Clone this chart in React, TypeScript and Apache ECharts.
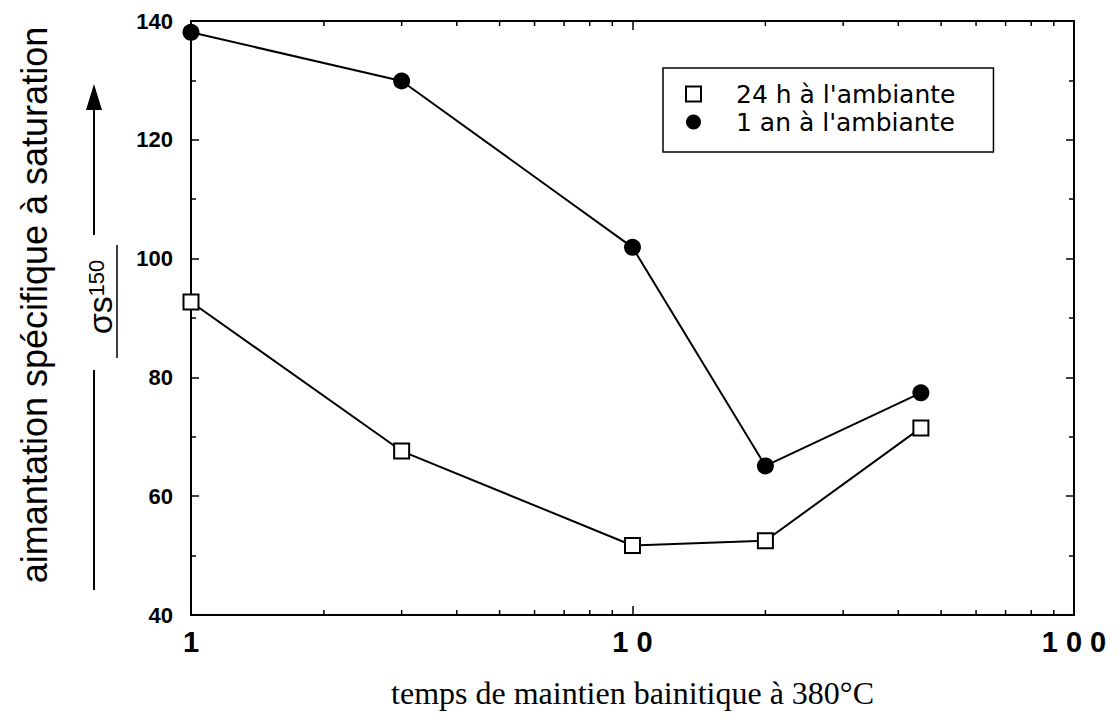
import React, { useEffect, useRef } from "react";
import * as echarts from "echarts";

const xTimes = [1, 3, 10, 20, 45];
const sigma24h = [92.7, 67.6, 51.7, 52.5, 71.5];
const sigma1an = [138.1, 129.9, 101.9, 65.1, 77.4];
const minorTicksX = [2, 3, 4, 5, 6, 7, 8, 9, 20, 30, 40, 50, 60, 70, 80, 90];
const seriesNames = ["24 h à l'ambiante", "1 an à l'ambiante"];
const yTitle = "aimantation spécifique à saturation";
const xTitle = "temps de maintien bainitique à 380°C";

const Y_MIN = 40;
const Y_MAX = 140;

export default function App() {
  const ref = useRef<HTMLDivElement>(null);

  useEffect(() => {
    if (!ref.current) return;
    const chart = echarts.init(ref.current, null, { renderer: "svg" });
    const black = "#000";
    const tickFont = { fontFamily: "Liberation Sans", fontWeight: "bold" as const, color: black };

    const xAxisBase = {
      type: "log" as const,
      logBase: 10,
      min: 1,
      max: 100,
      axisLine: { show: true, lineStyle: { color: black, width: 2 } },
      axisTick: { show: true, inside: true, length: 9, lineStyle: { color: black, width: 1.5 } },
      splitLine: { show: false },
    };
    const yAxisBase = {
      type: "value" as const,
      min: Y_MIN,
      max: Y_MAX,
      interval: 20,
      axisLine: { show: true, lineStyle: { color: black, width: 2 } },
      axisTick: { show: true, inside: true, length: 8, lineStyle: { color: black, width: 1.5 } },
      minorTick: { show: true, splitNumber: 2, length: 5, lineStyle: { color: black, width: 1.5 } },
      splitLine: { show: false },
    };

    chart.setOption({
      animation: false,
      backgroundColor: "#fff",
      grid: { left: 191, right: 46, top: 21, bottom: 110 },
      xAxis: [
        {
          ...xAxisBase,
          position: "bottom",
          axisLabel: {
            ...tickFont,
            fontSize: 29,
            margin: 12,
            formatter: (v: number) => String(Math.round(v)).split("").join(" "),
          },
          name: xTitle,
          nameLocation: "middle",
          nameGap: 62,
          nameTextStyle: { fontFamily: "Liberation Serif", fontSize: 32, color: black },
        },
        { ...xAxisBase, position: "top", axisLabel: { show: false } },
      ],
      yAxis: [
        {
          ...yAxisBase,
          position: "left",
          axisLabel: { ...tickFont, fontSize: 22, margin: 18 },
        },
        { ...yAxisBase, position: "right", axisLabel: { show: false } },
      ],
      legend: {
        left: 663,
        top: 68,
        orient: "vertical",
        padding: [12, 38, 16, 22],
        itemGap: 0,
        itemWidth: 15,
        itemHeight: 15,
        borderColor: black,
        borderWidth: 1.5,
        backgroundColor: "#fff",
        textStyle: {
          fontFamily: "DejaVu Sans",
          fontSize: 25,
          lineHeight: 28,
          color: black,
          padding: [0, 0, 0, 30],
        },
        data: [
          { name: seriesNames[0], icon: "rect" },
          { name: seriesNames[1], icon: "circle" },
        ],
      },
      graphic: [
        {
          type: "text",
          x: 34,
          y: 305,
          rotation: Math.PI / 2,
          style: {
            text: yTitle,
            fontFamily: "Liberation Sans",
            fontSize: 36,
            fill: black,
            align: "center",
            verticalAlign: "middle",
          },
        },
        {
          type: "line",
          shape: { x1: 94, y1: 235, x2: 94, y2: 106 },
          style: { stroke: black, lineWidth: 2 },
        },
        {
          type: "polygon",
          shape: { points: [[94, 84], [86, 110], [102, 110]] },
          style: { fill: black },
        },
        {
          type: "text",
          x: 101,
          y: 297,
          rotation: Math.PI / 2,
          style: {
            text: "{a|σs}{b|150}",
            align: "center",
            verticalAlign: "middle",
            fill: black,
            rich: {
              a: { fontFamily: "Liberation Sans", fontSize: 34, lineHeight: 32, verticalAlign: "bottom", fill: black },
              b: { fontFamily: "Liberation Sans", fontSize: 22, lineHeight: 32, verticalAlign: "top", fill: black },
            },
          },
        },
        {
          type: "line",
          shape: { x1: 117, y1: 245, x2: 117, y2: 358 },
          style: { stroke: black, lineWidth: 1.5 },
        },
        {
          type: "line",
          shape: { x1: 94, y1: 370, x2: 94, y2: 590 },
          style: { stroke: black, lineWidth: 2 },
        },
      ],
      series: [
        {
          type: "custom",
          silent: true,
          xAxisIndex: 0,
          yAxisIndex: 0,
          clip: false,
          data: minorTicksX.map((v) => [v, Y_MIN]),
          renderItem: (_params: any, api: any) => {
            const v = api.value(0);
            const b = api.coord([v, Y_MIN]);
            const t = api.coord([v, Y_MAX]);
            return {
              type: "group",
              children: [
                { type: "line", shape: { x1: b[0], y1: b[1], x2: b[0], y2: b[1] - 5 }, style: { stroke: black, lineWidth: 1.5 } },
                { type: "line", shape: { x1: t[0], y1: t[1], x2: t[0], y2: t[1] + 5 }, style: { stroke: black, lineWidth: 1.5 } },
              ],
            };
          },
        },
        {
          name: seriesNames[0],
          type: "line",
          clip: false,
          data: xTimes.map((x, i) => [x, sigma24h[i]]),
          symbol: "rect",
          symbolSize: 15,
          lineStyle: { color: black, width: 2 },
          itemStyle: { color: "#fff", borderColor: black, borderWidth: 2 },
          z: 3,
        },
        {
          name: seriesNames[1],
          type: "line",
          clip: false,
          data: xTimes.map((x, i) => [x, sigma1an[i]]),
          symbol: "circle",
          symbolSize: 17,
          lineStyle: { color: black, width: 2 },
          itemStyle: { color: black },
          z: 3,
        },
      ],
    });

    return () => chart.dispose();
  }, []);

  return (
    <div
      ref={ref}
      style={{ position: "fixed", left: 0, top: 0, width: 1120, height: 725, background: "#fff" }}
    />
  );
}
